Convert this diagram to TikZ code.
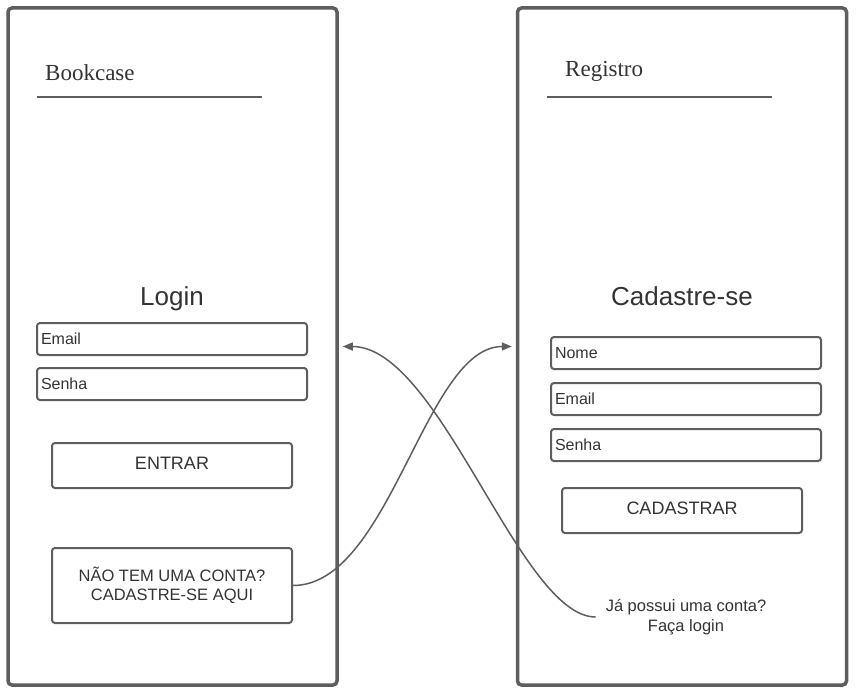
\documentclass[tikz,border=0pt]{standalone}
\usepackage{fontspec}
\setmainfont{Liberation Sans}
\newfontfamily\titleface{Liberation Serif}
\usetikzlibrary{arrows.meta}
\definecolor{edge}{HTML}{5E5E5E}
\definecolor{ink}{HTML}{333333}
\tikzset{
  frame/.style={draw=edge, line width=3.5pt, rounded corners=4pt, minimum width=329pt, minimum height=677pt, inner sep=0pt},
  field/.style={draw=edge, line width=2pt, rounded corners=3pt, minimum width=270pt, minimum height=32pt, text width=262pt, align=left, inner sep=3pt, text=ink, font=\fontsize{16}{19}\selectfont},
  button/.style={draw=edge, line width=2pt, rounded corners=3pt, minimum width=240pt, minimum height=45pt, align=center, text=ink, font=\fontsize{18}{21}\selectfont},
  bigbutton/.style={button, minimum height=75pt, font=\fontsize{16.5}{19.5}\selectfont},
  label/.style={text=ink, font=\fontsize{18}{21}\selectfont, inner sep=0pt},
  heading/.style={text=ink, font=\fontsize{26}{30}\selectfont, inner sep=0pt},
  apptitle/.style={text=ink, font=\titleface\fontsize{23}{26}\selectfont, inner sep=0pt, anchor=west},
  rule/.style={draw=edge, line width=2pt},
  note/.style={text=ink, align=center, font=\fontsize{16.5}{20}\selectfont, inner ysep=1pt, inner xsep=10pt},
  link/.style={draw=edge, line width=1.5pt, -{Triangle[length=10pt,width=8pt]}, shorten >=4pt}
}
\begin{document}
\begin{tikzpicture}[x=1pt,y=-1pt]
\useasboundingbox (0,0) rectangle (856,693);
% frames
\node[frame] (f1) at (172.5,346.5) {};
\node[frame] (f2) at (682,346.5) {};
% left screen
\node[apptitle] (t1) at (45,73) {Bookcase};
\draw[rule] (37,96.5) -- (262,96.5);
\node[heading] (login) at (172,299) {Login};
\node[field] (email1) at (172,339) {Email};
\node[field] (senha1) at (172,384) {Senha};
\node[button] (entrar) at (172,465.5) {};
\node[label] (entrartxt) at (172,463) {ENTRAR};
\node[bigbutton] (cad1) at (172,585.5) {NÃO TEM UMA CONTA?\\CADASTRE-SE AQUI};
% right screen
\node[apptitle] (t2) at (565,71.5) {Registro};
\draw[rule] (547,96.5) -- (772,96.5);
\node[heading] (cad) at (682,296) {Cadastre-se};
\node[field] (nome2) at (686,353) {Nome};
\node[field] (email2) at (686,399) {Email};
\node[field] (senha2) at (686,445) {Senha};
\node[button] (cadastrar) at (682,510.5) {};
\node[label] (cadastrartxt) at (682,508) {CADASTRAR};
\node[note] (ja) at (686,617) {Já possui uma conta?\\Faça login};
% connectors
\draw[link] (cad1.east) .. controls (390,585.5) and (425,346.5) .. (f2.west);
\draw[link] (ja.west) .. controls (520,617) and (440,346.5) .. (f1.east);
\end{tikzpicture}
\end{document}
